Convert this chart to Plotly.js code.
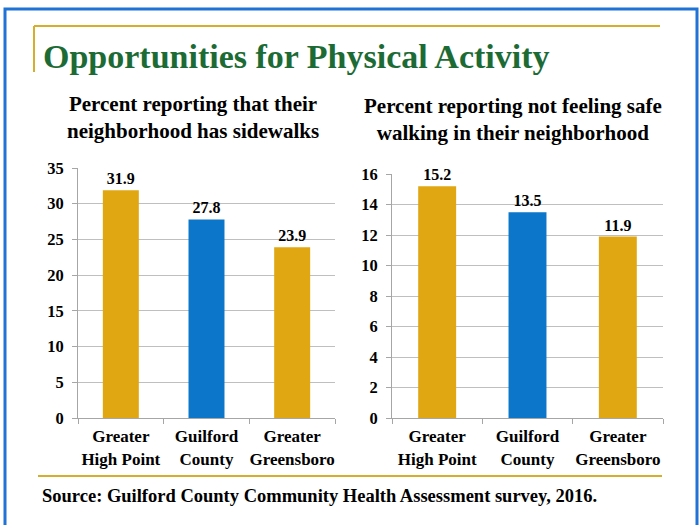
<!DOCTYPE html>
<html>
<head>
<meta charset="utf-8">
<script src="https://cdn.plot.ly/plotly-3.0.1.min.js"></script>
<style>html,body{margin:0;padding:0;background:#fff;}#chart{width:700px;height:525px;}</style>
</head>
<body>
<div id="chart"></div>
<script>
const categories = ['Greater<br>High Point', 'Guilford<br>County', 'Greater<br>Greensboro'];
const sidewalkValues = [31.9, 27.8, 23.9];
const unsafeValues = [15.2, 13.5, 11.9];
const barColors = ['#E0A712', '#0B76CA', '#E0A712'];
const leftTicks = [0, 5, 10, 15, 20, 25, 30, 35];
const rightTicks = [0, 2, 4, 6, 8, 10, 12, 14, 16];

const serif = '"Liberation Serif"';
const W = 700, H = 525;
const px = v => v / W;
const py = v => 1 - v / H;

const traces = [
  {
    type: 'bar', x: categories, y: sidewalkValues, xaxis: 'x', yaxis: 'y',
    marker: {color: barColors, line: {width: 0}},
    text: sidewalkValues.map(v => v.toFixed(1)), textposition: 'outside',
    textfont: {family: serif, size: 16, color: '#000', weight: 'bold'}, cliponaxis: false,
    hoverinfo: 'skip'
  },
  {
    type: 'bar', x: categories, y: unsafeValues, xaxis: 'x2', yaxis: 'y2',
    marker: {color: barColors, line: {width: 0}},
    text: unsafeValues.map(v => v.toFixed(1)), textposition: 'outside',
    textfont: {family: serif, size: 16, color: '#000', weight: 'bold'}, cliponaxis: false,
    hoverinfo: 'skip'
  }
];

const xCommon = {
  type: 'category', showline: true, linecolor: '#A6A6A6', linewidth: 1,
  ticks: 'outside', tickson: 'boundaries', ticklen: 5, tickcolor: '#A6A6A6',
  tickangle: 0, ticklabelstandoff: 3,
  tickfont: {family: serif, size: 17, color: '#000', weight: 'bold'},
  showgrid: false, fixedrange: true
};
const yCommon = {
  showline: true, linecolor: '#A6A6A6', linewidth: 1,
  ticks: 'outside', ticklen: 5, tickcolor: '#A6A6A6', ticklabelstandoff: 5,
  tickfont: {family: serif, size: 16.5, color: '#000', weight: 'bold'},
  gridcolor: '#BFBFBF', gridwidth: 1, zeroline: false, fixedrange: true
};

const layout = {
  width: W, height: H,
  margin: {l: 0, r: 0, t: 0, b: 0},
  paper_bgcolor: '#fff', plot_bgcolor: 'rgba(0,0,0,0)',
  showlegend: false, bargap: 0.58,
  font: {family: serif},
  xaxis: Object.assign({}, xCommon, {domain: [px(78), px(335)], anchor: 'y'}),
  yaxis: Object.assign({}, yCommon, {domain: [py(418), py(168)], anchor: 'x', range: [0, 35], tickvals: leftTicks}),
  xaxis2: Object.assign({}, xCommon, {domain: [px(392), px(663)], anchor: 'y2'}),
  yaxis2: Object.assign({}, yCommon, {domain: [py(418), py(174)], anchor: 'x2', range: [0, 16], tickvals: rightTicks}),
  shapes: [
    {type: 'rect', xref: 'paper', yref: 'paper', x0: px(5), x1: px(697), y0: py(9), y1: py(540),
     line: {color: '#1F73D6', width: 3}},
    {type: 'line', xref: 'paper', yref: 'paper', x0: px(34), x1: px(660), y0: py(26), y1: py(26),
     line: {color: '#D6AE2E', width: 2}},
    {type: 'line', xref: 'paper', yref: 'paper', x0: px(34), x1: px(34), y0: py(26), y1: py(72),
     line: {color: '#D6AE2E', width: 2}},
    {type: 'line', xref: 'paper', yref: 'paper', x0: px(38), x1: px(662), y0: py(476), y1: py(476),
     line: {color: '#D6AE2E', width: 2}}
  ],
  annotations: [
    {text: 'Opportunities for Physical Activity', xref: 'paper', yref: 'paper',
     x: px(41), y: py(57), xanchor: 'left', yanchor: 'middle', showarrow: false,
     font: {family: serif, size: 34, color: '#1C6B35', weight: 'bold'}},
    {text: 'Percent reporting that their<br>neighborhood has sidewalks', xref: 'paper', yref: 'paper',
     x: px(193), y: py(117), xanchor: 'center', yanchor: 'middle', showarrow: false,
     font: {family: serif, size: 21, color: '#000', weight: 'bold'}},
    {text: 'Percent reporting not feeling safe<br>walking in their neighborhood', xref: 'paper', yref: 'paper',
     x: px(513), y: py(119), xanchor: 'center', yanchor: 'middle', showarrow: false,
     font: {family: serif, size: 21, color: '#000', weight: 'bold'}},
    {text: 'Source: Guilford County Community Health Assessment survey, 2016.', xref: 'paper', yref: 'paper',
     x: px(40), y: py(496), xanchor: 'left', yanchor: 'middle', showarrow: false,
     font: {family: serif, size: 18.5, color: '#000', weight: 'bold'}}
  ]
};

Plotly.newPlot('chart', traces, layout, {displayModeBar: false, staticPlot: true});
</script>
</body>
</html>
